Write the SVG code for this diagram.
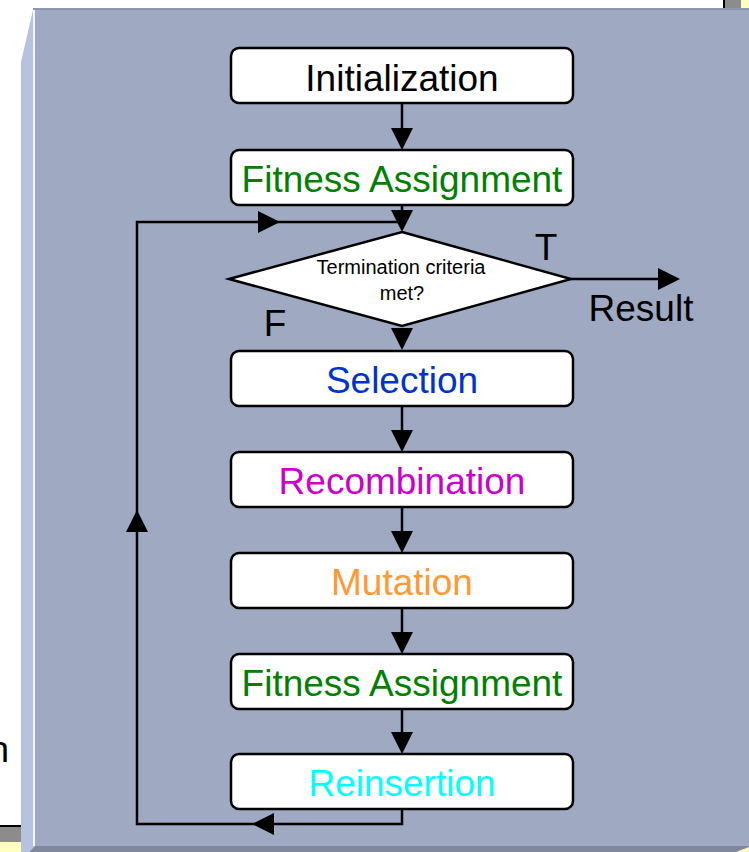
<svg xmlns="http://www.w3.org/2000/svg" width="749" height="852" viewBox="0 0 749 852">
  <style>
    .box { fill: #ffffff; stroke: #000000; stroke-width: 2.5; }
    .lbl { font-family: "Liberation Sans", Arial, sans-serif; font-size: 37px; text-anchor: middle; }
    .small { font-family: "Liberation Sans", Arial, sans-serif; font-size: 20px; text-anchor: middle; fill: #000; }
    .wire { fill: none; stroke: #000000; stroke-width: 2.5; }
  </style>
  <defs>
    <!-- arrowhead pointing right, tip at origin -->
    <path id="ah" d="M0,0 L-22,-11 L-22,11 Z"/>
  </defs>

  <!-- page background and side fragments -->
  <rect x="0" y="0" width="749" height="852" fill="#ffffff"/>
  <rect x="723" y="0" width="2" height="8" fill="#000000"/>
  <rect x="725" y="0" width="16" height="8" fill="#8c8c8c"/>
  <rect x="741" y="0" width="8" height="8" fill="#ffffc0"/>
  <rect x="0" y="825" width="21" height="2" fill="#000000"/>
  <rect x="0" y="827" width="21" height="15" fill="#8c8c8c"/>
  <rect x="0" y="842" width="21" height="10" fill="#ffffc0"/>
  <text x="9" y="762" font-family="Liberation Sans, Arial, sans-serif" font-size="37" text-anchor="end" fill="#000">n</text>

  <!-- bevelled panel -->
  <g id="panel">
    <rect x="33" y="8" width="716" height="2" fill="#8d96ae"/>
    <rect x="35" y="10" width="714" height="836" fill="#9fa9c2"/>
    <polygon points="33,10 21,62 21,852 29,852 35,846 33,846" fill="#b7c3de"/>
    <rect x="33" y="10" width="2" height="836" fill="#f2f5fb"/>
    <polygon points="35,846 749,846 749,852 29,852" fill="#7f889c"/>
    <polygon points="736,852 749,847 749,852" fill="#ffffc0"/>
  </g>

  <!-- connectors -->
  <g id="connectors">
    <line class="wire" x1="402" y1="103" x2="402" y2="140"/>
    <use href="#ah" transform="translate(402,150) rotate(90)"/>
    <line class="wire" x1="402" y1="205" x2="402" y2="222"/>
    <use href="#ah" transform="translate(402,232) rotate(90)"/>
    <use href="#ah" transform="translate(402,350) rotate(90)"/>
    <line class="wire" x1="402" y1="406" x2="402" y2="442"/>
    <use href="#ah" transform="translate(402,452) rotate(90)"/>
    <line class="wire" x1="402" y1="507" x2="402" y2="543"/>
    <use href="#ah" transform="translate(402,553) rotate(90)"/>
    <line class="wire" x1="402" y1="608" x2="402" y2="644"/>
    <use href="#ah" transform="translate(402,654) rotate(90)"/>
    <line class="wire" x1="402" y1="709" x2="402" y2="744"/>
    <use href="#ah" transform="translate(402,754) rotate(90)"/>
    <!-- feedback loop -->
    <polyline class="wire" points="402,809 402,824 137,824 137,222 402,222"/>
    <use href="#ah" transform="translate(252,824) rotate(180)"/>
    <use href="#ah" transform="translate(137,510) rotate(-90)"/>
    <use href="#ah" transform="translate(280,222)"/>
    <!-- exit to result -->
    <line class="wire" x1="571" y1="279" x2="670" y2="279"/>
    <use href="#ah" transform="translate(680,279)"/>
    <text class="lbl" x="546" y="260" fill="#000">T</text>
    <text class="lbl" x="275" y="336" fill="#000">F</text>
    <text class="lbl" x="641" y="321" fill="#000">Result</text>
  </g>

  <g id="init">
    <rect class="box" x="231" y="48" width="342" height="55" rx="8"/>
    <text class="lbl" x="402" y="91" fill="#000000">Initialization</text>
  </g>
  <g id="fitness1">
    <rect class="box" x="231" y="150" width="342" height="55" rx="8"/>
    <text class="lbl" x="402" y="192" fill="#008000">Fitness Assignment</text>
  </g>
  <g id="termination">
    <polygon class="box" points="402,232 571,279 402,326 229,279"/>
    <text class="small" x="401" y="274">Termination criteria</text>
    <text class="small" x="402" y="300">met?</text>
  </g>
  <g id="selection">
    <rect class="box" x="231" y="351" width="342" height="55" rx="8"/>
    <text class="lbl" x="402" y="393" fill="#0033cc">Selection</text>
  </g>
  <g id="recombination">
    <rect class="box" x="231" y="452" width="342" height="55" rx="8"/>
    <text class="lbl" x="402" y="494" fill="#cc00cc">Recombination</text>
  </g>
  <g id="mutation">
    <rect class="box" x="231" y="553" width="342" height="55" rx="8"/>
    <text class="lbl" x="402" y="595" fill="#ff9933">Mutation</text>
  </g>
  <g id="fitness2">
    <rect class="box" x="231" y="654" width="342" height="55" rx="8"/>
    <text class="lbl" x="402" y="696" fill="#008000">Fitness Assignment</text>
  </g>
  <g id="reinsertion">
    <rect class="box" x="231" y="754" width="342" height="55" rx="8"/>
    <text class="lbl" x="402" y="796" fill="#00ffff">Reinsertion</text>
  </g>
</svg>
